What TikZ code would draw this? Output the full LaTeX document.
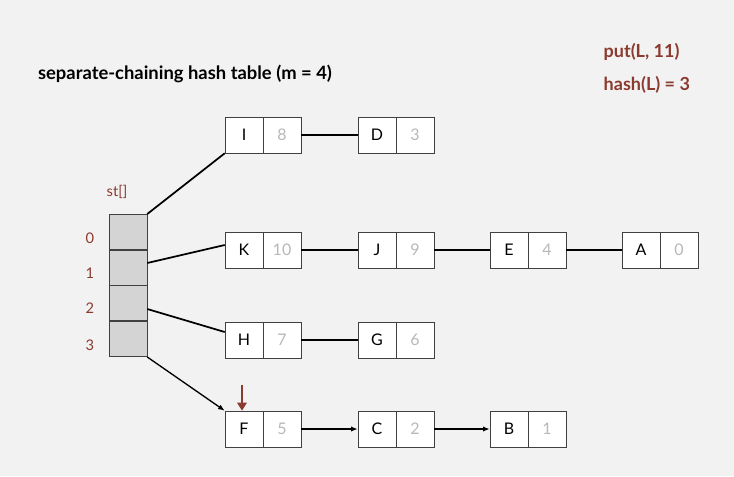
\documentclass[tikz,border=0pt]{standalone}
\usepackage{fontspec}
\setmainfont{Lato}
\usetikzlibrary{arrows.meta,calc}
\definecolor{bookred}{HTML}{8B3A2F}
\definecolor{bg}{HTML}{F2F2F2}
\definecolor{valgray}{HTML}{B8B8B8}
\tikzset{
    key/.style={draw=black!75, fill=white, minimum width=28.5pt, minimum height=27pt, inner sep=0pt, font=\fontsize{12}{12}\selectfont},
    val/.style={key, text=valgray},
    slot/.style={draw=black!75, fill=black!17, minimum width=28.5pt, minimum height=26.6pt, inner sep=0pt},
    link/.style={black, line width=1.3pt},
    ptr/.style={black, line width=1pt, -{Latex[length=5pt,width=4pt]}},
    idx/.style={text=bookred, font=\fontsize{11}{11}\selectfont}
}
\begin{document}
\begin{tikzpicture}[x=0.75pt, y=-0.75pt]
    \fill[bg] (0,0) rectangle (734,476);
    \useasboundingbox (0,0) rectangle (734,476);

    \node[text=bookred, font=\bfseries\fontsize{13.5}{13.5}\selectfont, anchor=west] (op) at (599,52) {put(L, 11)};
    \node[text=bookred, font=\bfseries\fontsize{13.5}{13.5}\selectfont, anchor=west] (hs) at (599,85) {hash(L) = 3};
    \node[font=\bfseries\fontsize{13.8}{13.8}\selectfont] (title) at (185,74) {separate-chaining hash table (m = 4)};

    % the array
    \node[idx] (st) at (117,192) {st[]};
    \node[slot] (s0) at (128,232) {};
    \node[slot] (s1) at (128,268) {};
    \node[slot] (s2) at (128,303) {};
    \node[slot] (s3) at (128,339) {};
    \node[idx] (i0) at (90,238) {0};
    \node[idx] (i1) at (90,273) {1};
    \node[idx] (i2) at (90,308) {2};
    \node[idx] (i3) at (90,345) {3};

    % chains
    \node[key] (I) at (244,135) {I};
    \node[val] (I8) at (282,135) {8};
    \node[key] (D) at (377,135) {D};
    \node[val] (D3) at (415,135) {3};

    \node[key] (K) at (244,250) {K};
    \node[val] (K10) at (282,250) {10};
    \node[key] (J) at (377,250) {J};
    \node[val] (J9) at (415,250) {9};
    \node[key] (E) at (509,250) {E};
    \node[val] (E4) at (547,250) {4};
    \node[key] (A) at (641,250) {A};
    \node[val] (A0) at (679,250) {0};

    \node[key] (H) at (244,340) {H};
    \node[val] (H7) at (282,340) {7};
    \node[key] (G) at (377,340) {G};
    \node[val] (G6) at (415,340) {6};

    \node[key] (F) at (244,429) {F};
    \node[val] (F5) at (282,429) {5};
    \node[key] (C) at (377,429) {C};
    \node[val] (C2) at (415,429) {2};
    \node[key] (B) at (509,429) {B};
    \node[val] (B1) at (547,429) {1};

    \coordinate (mark) at (242,385);

    \draw[link] (s0.north east) -- (I.south west);
    \draw[link] ($(s1.east)+(0,-5)$) -- ($(K.west)+(0,-5)$);
    \draw[link] ($(s2.east)+(0,6)$) -- ($(H.west)+(0,-8)$);
    \draw[ptr] (s3.south east) -- (F.north west);
    \draw[link] (I8) -- (D);
    \draw[link] (K10) -- (J);
    \draw[link] (J9) -- (E);
    \draw[link] (E4) -- (A);
    \draw[link] (H7) -- (G);
    \draw[ptr] (F5) -- (C);
    \draw[ptr] (C2) -- (B);
    \draw[bookred, line width=1.6pt, -{Triangle[length=6pt,width=7pt]}] (mark) -- (F.north -| mark);
\end{tikzpicture}
\end{document}
